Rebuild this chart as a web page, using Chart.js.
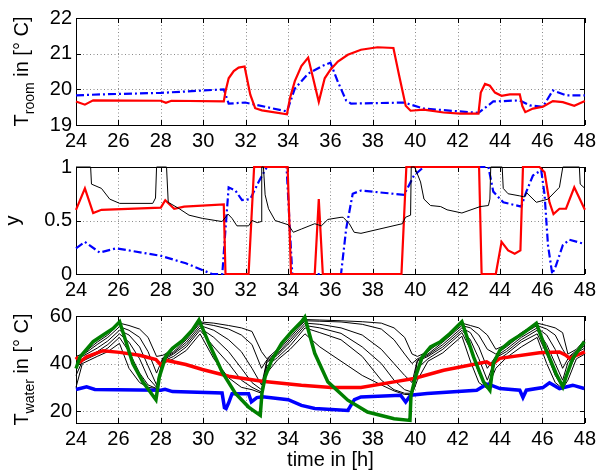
<!DOCTYPE html>
<html lang="en">
<head>
<meta charset="UTF-8">
<title>Room temperature, valve position and water temperatures</title>
<script src="https://cdn.jsdelivr.net/npm/chart.js@4.4.8/dist/chart.umd.min.js"></script>
<style>
  body { margin: 0; background: #fff; }
  #wrap { position: relative; width: 600px; height: 471px; }
  canvas { position: absolute; left: 0; }
</style>
</head>
<body>
<div id="wrap">
  <canvas id="roomChart" width="600" height="150" style="top:0px"></canvas>
  <canvas id="valveChart" width="600" height="150" style="top:150px"></canvas>
  <canvas id="waterChart" width="600" height="171" style="top:300px"></canvas>
</div>
<script>
// ---- shared axis ticks ----
const hourTicks = [24, 26, 28, 30, 32, 34, 36, 38, 40, 42, 44, 46, 48];
const roomTicks = [19, 20, 21, 22];
const valveTicks = [0, 0.25, 0.5, 0.75, 1];
const valveTickLabels = ['0', '0.25', '0.5', '0.75', '1'];
const waterTicks = [20, 30, 40, 50, 60];

// ---- top panel: room temperature ----
const roomTime = [24, 24.42, 24.81, 28.0, 28.24, 28.5, 30.97, 31.05, 31.2, 31.44, 31.67, 31.95, 32.22, 32.45, 32.77, 33.95, 34.09, 34.32, 34.63, 34.95, 35.45, 35.73, 36.0, 36.35, 36.82, 37.44, 38.22, 38.97, 39.24, 39.55, 39.78, 40.4, 41.34, 42.12, 42.98, 43.09, 43.29, 43.52, 43.76, 44.07, 44.46, 44.93, 45.05, 45.19, 45.55, 46.02, 46.49, 46.96, 47.5, 48.0];
const roomActual = [19.66, 19.57, 19.69, 19.68, 19.62, 19.68, 19.66, 19.94, 20.31, 20.51, 20.61, 20.64, 19.85, 19.47, 19.41, 19.30, 19.75, 20.23, 20.65, 20.89, 19.65, 20.31, 20.55, 20.78, 20.97, 21.11, 21.18, 21.16, 20.39, 19.54, 19.40, 19.43, 19.35, 19.32, 19.32, 19.91, 20.15, 20.10, 19.91, 19.82, 19.86, 19.86, 19.53, 19.36, 19.46, 19.51, 19.67, 19.64, 19.54, 19.67];
const roomRefTime = [24, 25.28, 28.0, 30.97, 31.2, 31.98, 33.95, 34.32, 34.95, 35.6, 36.0, 36.35, 36.74, 36.97, 39.47, 40.4, 42.98, 43.68, 44.93, 45.4, 46.02, 46.49, 47.11, 48.0];
const roomRef = [19.83, 19.86, 19.9, 20.0, 19.6, 19.63, 19.38, 20.02, 20.44, 20.65, 20.75, 20.21, 19.69, 19.6, 19.63, 19.46, 19.34, 19.66, 19.69, 19.55, 19.51, 19.97, 19.83, 19.83];

// ---- middle panel: y ----
const yRedTime = [24, 24.42, 24.81, 25.2, 28.0, 28.21, 28.63, 29.1, 30.97, 31.05, 32.14, 32.4, 33.98, 34.14, 35.26, 35.45, 35.64, 39.35, 39.58, 43.01, 43.13, 43.8, 44.07, 44.38, 44.69, 44.96, 45.08, 45.86, 46.1, 46.33, 46.52, 46.8, 47.11, 47.5, 48.0];
const yRed = [0.6, 0.8, 0.57, 0.6, 0.62, 0.69, 0.61, 0.63, 0.65, 0, 0, 1, 1, 0, 0, 0.7, 0, 0, 1, 1, 0, 0, 0.3, 0.22, 0.19, 0.22, 1, 1, 0.95, 0.67, 0.56, 0.61, 0.61, 0.81, 0.6];
const yBlueTime = [24, 24.42, 25.12, 25.9, 28.0, 29.18, 30.42, 30.9, 31.05, 31.2, 31.52, 31.83, 32.22, 32.61, 33.0, 33.93, 34.2, 36.5, 36.74, 37.05, 37.44, 39.47, 39.94, 40.4, 43.45, 43.68, 44.15, 45.0, 45.24, 45.55, 45.94, 46.1, 46.26, 46.46, 46.64, 46.96, 47.27, 48.0];
const yBlue = [0.24, 0.3, 0.2, 0.24, 0.17, 0.1, 0, 0, 0.42, 0.81, 0.78, 0.69, 0.7, 0.86, 1, 1, 0, 0, 0.42, 0.75, 0.78, 0.74, 0.92, 1, 1, 0.77, 0.67, 0.63, 0.77, 0.92, 0.97, 0.74, 0.27, 0, 0.08, 0.27, 0.32, 0.28];
const yBlackTime = [24, 24.69, 24.73, 25.2, 25.59, 26.06, 27.62, 27.75, 27.8, 28.27, 28.35, 28.87, 29.33, 29.96, 30.89, 31.17, 31.36, 31.59, 32.14, 32.3, 32.55, 32.73, 32.76, 32.84, 32.92, 33.08, 33.39, 34.01, 34.25, 34.63, 35.26, 35.57, 35.88, 36.5, 36.6, 36.89, 37.12, 37.44, 39.39, 39.54, 39.78, 39.81, 39.97, 40.25, 40.41, 40.72, 41.2, 41.5, 42.2, 43.06, 43.45, 43.52, 43.56, 44.1, 44.15, 44.38, 44.93, 45.15, 45.25, 45.71, 46.26, 46.8, 46.96, 47.74, 47.78, 48.0];
const yBlack = [1, 1, 0.84, 0.8, 0.7, 0.66, 0.66, 0.71, 1, 1, 0.67, 0.61, 0.55, 0.52, 0.49, 0.56, 0.52, 0.45, 0.45, 0.5, 0.48, 0.49, 1, 1, 0.74, 0.61, 0.5, 0.46, 0.39, 0.42, 0.47, 0.45, 0.51, 0.53, 0.53, 0.47, 0.39, 0.38, 0.47, 0.53, 0.55, 1, 1, 0.86, 0.7, 0.64, 0.63, 0.6, 0.57, 0.63, 0.64, 0.7, 1, 1, 0.8, 0.75, 0.73, 0.72, 0.76, 0.67, 0.7, 0.81, 1, 1, 0.84, 0.8];

// ---- bottom panel: water temperatures ----
const wRedTime = [24, 24.19, 24.5, 25.28, 26.06, 27.0, 27.77, 28.01, 28.24, 29.18, 29.96, 31.2, 32.77, 34.63, 36.04, 37.44, 39.0, 39.94, 41.34, 43.37, 43.6, 43.99, 45.86, 46.8, 47.1, 47.27, 48.0];
const wRed = [42.8, 40.7, 42.8, 45.4, 44.7, 43.5, 41.7, 39.3, 41.4, 39.6, 37.5, 34.7, 32.6, 30.9, 29.9, 29.9, 32.3, 33.7, 37.2, 40.7, 39.5, 42.2, 44.5, 44.9, 43.5, 42.2, 44.9];
const wBlueTime = [24, 24.5, 24.89, 28.0, 28.2, 28.55, 30.89, 31.0, 31.08, 31.2, 31.36, 32.14, 32.27, 32.53, 32.8, 34.01, 34.63, 35.26, 36.82, 37.13, 37.44, 39.31, 39.55, 39.78, 40.56, 42.9, 43.37, 43.6, 43.99, 44.93, 45.08, 45.24, 46.02, 46.33, 46.8, 47.43, 47.97];
const wBlue = [29.1, 30.2, 29.1, 28.8, 29.2, 28.2, 27.6, 21.5, 21.1, 23.5, 27.3, 27.3, 23.9, 25.7, 26.0, 24.8, 22.4, 21.1, 20.3, 24.8, 25.95, 26.7, 23.8, 26.7, 27.4, 28.8, 31.3, 30.8, 29.5, 28.8, 25.7, 28.8, 29.9, 31.9, 29.5, 30.9, 29.5];
const wGreenTime = [24, 24.19, 24.81, 25.28, 25.75, 26.06, 26.68, 27.15, 27.77, 27.93, 28.24, 28.55, 29.02, 29.49, 29.8, 30.27, 30.89, 31.52, 32.14, 32.69, 32.77, 32.92, 33.23, 33.7, 34.17, 34.63, 34.79, 35.26, 35.88, 36.82, 37.75, 39.0, 39.75, 39.8, 40.01, 40.33, 40.72, 41.19, 41.65, 42.2, 42.75, 43.22, 43.52, 43.68, 43.99, 44.46, 45.08, 45.71, 46.18, 46.64, 46.96, 47.11, 47.43, 47.97];
const wGreen = [37.9, 42.8, 49.2, 52.0, 54.8, 57.6, 40.0, 32.3, 24.8, 34.4, 43.2, 46.4, 49.6, 54.1, 58.3, 48.5, 36.5, 27.4, 21.7, 18.2, 27.5, 34.4, 41.4, 48.5, 53.4, 57.6, 59.5, 44.3, 32.3, 24.6, 19.6, 16.8, 16.1, 26.7, 34.4, 42.8, 47.0, 49.2, 52.7, 57.6, 42.8, 32.3, 28.8, 40.0, 45.6, 49.2, 52.7, 56.9, 45.6, 35.8, 30.2, 34.4, 42.2, 49.2];
// storage layers, top layer first
const layerTime = [24.0, 24.3, 25.0, 25.5, 26.05, 26.5, 27.0, 27.4, 27.8, 28.1, 28.6, 29.2, 29.85, 30.5, 31.2, 31.8, 32.3, 32.75, 33.0, 33.5, 34.1, 34.8, 35.5, 36.5, 37.5, 38.4, 39.0, 39.5, 39.85, 40.1, 40.6, 41.3, 42.2, 42.6, 43.0, 43.4, 43.8, 44.3, 45.0, 45.75, 46.2, 46.6, 46.95, 47.2, 47.6, 48.0];
const layer1 = [43, 44, 49, 52, 57, 56, 54.5, 51, 43, 43.5, 46, 51, 57.5, 57, 56, 55, 53.5, 45, 42, 46, 52, 58.5, 58.3, 58, 57.6, 57, 55, 51, 44, 43, 45, 50, 57, 56, 55, 52, 46, 48, 53, 57, 56, 55, 53, 44, 46, 50];
const layer2 = [42, 43.5, 48, 51, 55.5, 54, 51, 45, 36, 42.5, 45, 50, 57, 56, 54.5, 52, 48, 38, 41.5, 45, 51, 58, 57.8, 57.5, 56.5, 54.5, 50, 44, 40, 42, 44, 49, 56, 55, 52, 46, 44, 47, 52, 56, 54.5, 52, 46, 42.5, 45.5, 48.5];
const layer3 = [41, 43, 46.5, 49.5, 54, 52, 47, 39, 31, 42, 44.5, 49, 56, 54, 50, 45, 38, 31, 41, 44, 50, 57, 56.5, 55, 52, 46, 40, 35, 32, 41.5, 43.5, 48, 55, 53, 47, 38, 43, 46, 51, 55, 52, 46, 38, 42, 45, 47.5];
const layer4 = [40, 42, 45, 48, 52.5, 49, 42, 34, 30, 41.5, 44, 48, 55, 51, 45, 38, 32, 29, 40.5, 43.5, 49, 56, 55, 52.7, 47, 40, 33, 29, 28, 41, 43, 47, 54, 50, 42, 33, 42.5, 45, 50, 54, 48, 40, 33, 40.5, 44.5, 46.5];
const layer5 = [35, 41, 44, 46.5, 51, 45, 36, 31, 29.5, 41, 43, 47, 54, 47, 40, 33, 30, 28, 39, 42.5, 47.5, 55, 53, 50, 43, 33, 29, 27.5, 27.5, 38, 42, 46, 53, 46, 36, 30, 41, 44, 49, 52.5, 44, 35, 30, 37, 43.5, 45.5];
const layer6 = [30, 40, 43, 45, 48.5, 38, 32, 30, 29.5, 40, 42, 45.5, 52.5, 42, 34, 30, 29, 27.5, 36, 41.5, 46, 52.5, 47, 41, 35, 31, 28.5, 27, 27, 33, 41, 44.5, 51.5, 41, 32, 29.5, 38, 42.5, 47, 51, 40, 32, 29.5, 33, 42, 44];

const FONT = '"Liberation Sans", Arial, Helvetica, sans-serif';
Chart.defaults.font.family = FONT;
Chart.defaults.color = '#000';

const pairs = (xs, ys) => xs.map((x, i) => ({ x: x, y: ys[i] }));

function line(xs, ys, color, width, dash) {
    return {
        data: pairs(xs, ys),
        borderColor: color,
        borderWidth: width,
        borderDash: dash || [],
        pointRadius: 0,
        tension: 0,
        fill: false,
        clip: 4
    };
}

// dotted grid, inward tick marks and the axes box
const framePlugin = {
    id: 'frame',
    beforeDatasetsDraw(chart) {
        const { ctx, chartArea: a, scales: { x, y } } = chart;
        const xs = x.ticks.map(t => Math.round(x.getPixelForValue(t.value)) + 0.5);
        const ys = y.ticks.map(t => Math.round(y.getPixelForValue(t.value)) + 0.5);
        ctx.save();
        ctx.lineWidth = 1;
        ctx.strokeStyle = '#8a8a8a';
        ctx.setLineDash([1, 2.5]);
        ctx.beginPath();
        xs.forEach(px => { if (px > a.left + 2 && px < a.right - 2) { ctx.moveTo(px, a.top); ctx.lineTo(px, a.bottom); } });
        ys.forEach(py => { if (py > a.top + 2 && py < a.bottom - 2) { ctx.moveTo(a.left, py); ctx.lineTo(a.right, py); } });
        ctx.stroke();
        ctx.setLineDash([]);
        ctx.strokeStyle = '#000';
        ctx.beginPath();
        xs.forEach(px => { ctx.moveTo(px, a.bottom); ctx.lineTo(px, a.bottom - 5); ctx.moveTo(px, a.top); ctx.lineTo(px, a.top + 5); });
        ys.forEach(py => { ctx.moveTo(a.left, py); ctx.lineTo(a.left + 5, py); ctx.moveTo(a.right, py); ctx.lineTo(a.right - 5, py); });
        ctx.stroke();
        ctx.strokeRect(Math.round(a.left) + 0.5, Math.round(a.top) + 0.5, Math.round(a.width) - 1, Math.round(a.height));
        ctx.restore();
    }
};

// rotated y title with optional subscript, plus an optional x title
function titlePlugin(parts, baseX, xTitle) {
    return {
        id: 'sideTitle',
        afterDraw(chart) {
            const { ctx, chartArea: a } = chart;
            ctx.save();
            ctx.fillStyle = '#000';
            ctx.textBaseline = 'alphabetic';
            let total = 0;
            parts.forEach(p => {
                ctx.font = p.size + 'px ' + FONT;
                p.w = ctx.measureText(p.text).width;
                total += p.w;
            });
            ctx.translate(baseX, (a.top + a.bottom) / 2);
            ctx.rotate(-Math.PI / 2);
            let pos = -total / 2;
            parts.forEach(p => {
                ctx.font = p.size + 'px ' + FONT;
                ctx.fillText(p.text, pos, p.dy || 0);
                pos += p.w;
            });
            ctx.restore();
            if (xTitle) {
                ctx.save();
                ctx.fillStyle = '#000';
                ctx.font = '20px ' + FONT;
                ctx.textAlign = 'center';
                ctx.textBaseline = 'alphabetic';
                ctx.fillText(xTitle.text, (a.left + a.right) / 2, xTitle.y);
                ctx.restore();
            }
        }
    };
}

function makeOptions(cfg) {
    const tickFont = { size: 20, family: FONT };
    return {
        responsive: false,
        animation: false,
        events: [],
        layout: { padding: { top: cfg.top, right: 11, left: 0, bottom: 0 } },
        plugins: { legend: { display: false }, tooltip: { enabled: false } },
        scales: {
            x: {
                type: 'linear',
                min: 24,
                max: 48,
                afterBuildTicks: s => { s.ticks = hourTicks.map(v => ({ value: v })); },
                afterFit: s => { s.height = cfg.xHeight; },
                grid: { display: false, drawTicks: false },
                border: { display: false },
                ticks: { font: tickFont, color: '#000', padding: 4, autoSkip: false, maxRotation: 0, callback: v => String(v) }
            },
            y: {
                type: 'linear',
                min: cfg.yMin,
                max: cfg.yMax,
                afterBuildTicks: s => { s.ticks = cfg.yTicks.map(v => ({ value: v })); },
                afterFit: s => { s.width = 76; },
                grid: { display: false, drawTicks: false },
                border: { display: false },
                ticks: { font: tickFont, color: '#000', padding: 4, callback: cfg.yLabel }
            }
        }
    };
}

const DASHDOT = [8, 3, 2, 3];

new Chart(document.getElementById('roomChart'), {
    type: 'line',
    data: {
        datasets: [
            line(roomTime, roomActual, '#ff0000', 2.2),
            line(roomRefTime, roomRef, '#0000ff', 2.2, DASHDOT)
        ]
    },
    options: makeOptions({ top: 18, xHeight: 25, yMin: 19, yMax: 22, yTicks: roomTicks, yLabel: v => String(v) }),
    plugins: [framePlugin, titlePlugin([
        { text: 'T', size: 20 },
        { text: 'room', size: 14, dy: 6 },
        { text: ' in [\u00b0 C]', size: 20 }
    ], 28)]
});

new Chart(document.getElementById('valveChart'), {
    type: 'line',
    data: {
        datasets: [
            line(yBlackTime, yBlack, '#000000', 1),
            line(yRedTime, yRed, '#ff0000', 2.2),
            line(yBlueTime, yBlue, '#0000ff', 2.2, DASHDOT)
        ]
    },
    options: makeOptions({ top: 17, xHeight: 26, yMin: 0, yMax: 1, yTicks: valveTicks, yLabel: (v, i) => valveTickLabels[i] }),
    plugins: [framePlugin, titlePlugin([{ text: 'y', size: 20 }], 19)]
});

new Chart(document.getElementById('waterChart'), {
    type: 'line',
    data: {
        datasets: [
            line(wGreenTime, wGreen, '#008000', 3.5),
            line(wRedTime, wRed, '#ff0000', 3.5),
            line(wBlueTime, wBlue, '#0000ff', 3.5),
            line(layerTime, layer1, '#000000', 1),
            line(layerTime, layer2, '#000000', 1),
            line(layerTime, layer3, '#000000', 1),
            line(layerTime, layer4, '#000000', 1),
            line(layerTime, layer5, '#000000', 1),
            line(layerTime, layer6, '#000000', 1)
        ]
    },
    options: makeOptions({ top: 16, xHeight: 48, yMin: 15, yMax: 60, yTicks: waterTicks, yLabel: v => String(v) }),
    plugins: [framePlugin, titlePlugin([
        { text: 'T', size: 20 },
        { text: 'water', size: 14, dy: 6 },
        { text: ' in [\u00b0 C]', size: 20 }
    ], 28, { text: 'time in [h]', y: 166 })]
});
</script>
</body>
</html>
